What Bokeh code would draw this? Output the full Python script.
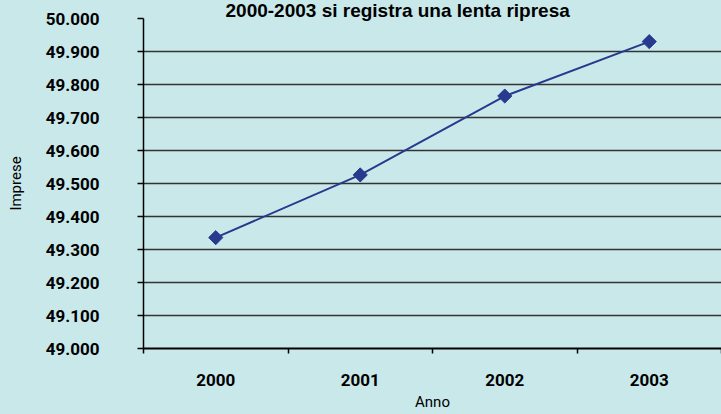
from bokeh.plotting import figure
from bokeh.models import (FixedTicker, ColumnDataSource, Range1d,
                          GlobalInlineStyleSheet)
from bokeh.embed import file_html
from bokeh.resources import INLINE

# ---- data ----
years = ["2000", "2001", "2002", "2003"]
imprese = [49336, 49526, 49765, 49930]
y_ticks = [49000, 49100, 49200, 49300, 49400, 49500, 49600, 49700, 49800, 49900, 50000]
title_text = "2000-2003 si registra una lenta ripresa"
x_label = "Anno"
y_label = "Imprese"

BG = "#C9E8EA"
NAVY = "#283A8E"
FONT = "Roboto"

x_pos = [i + 0.5 for i in range(len(years))]
src = ColumnDataSource(dict(x=x_pos, y=imprese))

p = figure(width=721, height=414, output_backend="svg", toolbar_location=None,
           x_range=Range1d(0, len(years)), y_range=Range1d(y_ticks[0], y_ticks[-1]),
           min_border_left=143, min_border_right=0, min_border_top=18, min_border_bottom=66)
p.stylesheets = [GlobalInlineStyleSheet(css=f"body{{margin:0;background:{BG};}}")]
p.background_fill_color = BG
p.border_fill_color = BG
p.outline_line_color = None

# title squeezed into the top border
p.title.text = title_text
p.title.text_font = "Liberation Sans"
p.title.text_font_style = "bold"
p.title.text_font_size = "19px"
p.title.text_color = "black"
p.title.align = "left"
p.title.vertical_align = "middle"
p.title.offset = 82
p.title.standoff = -6

# x axis: ticks between categories, labels centered
p.xaxis.ticker = FixedTicker(ticks=x_pos, minor_ticks=list(range(len(years) + 1)))
p.xaxis.major_label_overrides = {x: y for x, y in zip(x_pos, years)}
p.xaxis.major_tick_out = 0
p.xaxis.major_tick_in = 0
p.xaxis.minor_tick_out = 5
p.xaxis.minor_tick_in = 0
p.xaxis.minor_tick_line_color = "black"
p.xaxis.minor_tick_line_width = 1.5
p.xaxis.major_label_standoff = 20
p.xaxis.axis_line_color = "black"
p.xaxis.axis_line_width = 2
p.xaxis.axis_label = x_label
p.xaxis.axis_label_standoff = 4
p.xgrid.visible = False

# y axis
p.yaxis.ticker = FixedTicker(ticks=y_ticks)
p.yaxis.major_label_overrides = {v: f"{v:,}".replace(",", ".") for v in y_ticks}
p.yaxis.major_tick_out = 6
p.yaxis.major_tick_in = 0
p.yaxis.major_tick_line_width = 1.5
p.yaxis.minor_tick_line_color = None
p.yaxis.major_label_standoff = 38
p.yaxis.axis_line_color = "black"
p.yaxis.axis_line_width = 1.5
p.yaxis.axis_label = y_label
p.yaxis.axis_label_standoff = 18
p.ygrid.grid_line_color = "#333333"
p.ygrid.grid_line_width = 1.5

for ax in (p.xaxis, p.yaxis):
    ax.major_label_text_font = FONT
    ax.major_label_text_font_style = "bold"
    ax.major_label_text_font_size = "17px"
    ax.major_label_text_color = "black"
    ax.axis_label_text_font = FONT
    ax.axis_label_text_font_style = "normal"
    ax.axis_label_text_font_size = "15px"
    ax.axis_label_text_color = "black"

p.line("x", "y", source=src, line_color=NAVY, line_width=2)
p.scatter("x", "y", source=src, marker="square", angle=0.785398, size=10,
          fill_color=NAVY, line_color=NAVY)

open("out.html", "w").write(file_html(p, INLINE))
